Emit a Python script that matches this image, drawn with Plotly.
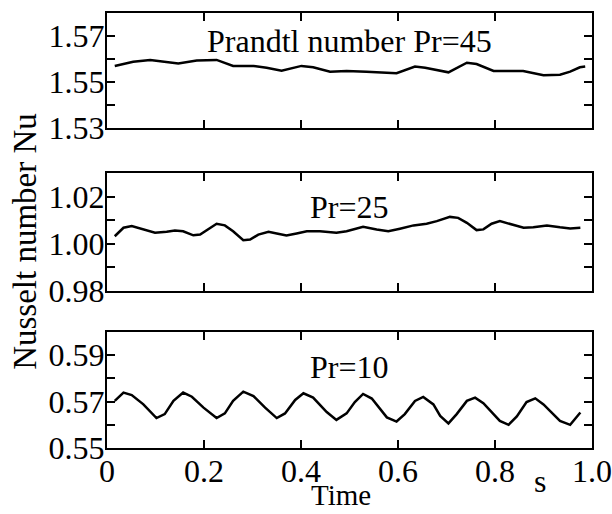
import plotly.graph_objects as go
from plotly.subplots import make_subplots

# Pr=45 series (time in s, Nusselt number)
time_pr45 = [0.016, 0.054, 0.089, 0.113, 0.147, 0.185, 0.226, 0.260, 0.302, 0.329,
             0.360, 0.401, 0.425, 0.460, 0.494, 0.535, 0.566, 0.597, 0.635, 0.656,
             0.704, 0.742, 0.762, 0.797, 0.858, 0.900, 0.934, 0.955, 0.975, 0.986]
nu_pr45 = [1.5570, 1.5588, 1.5596, 1.5591, 1.5581, 1.5593, 1.5596, 1.5570, 1.5570, 1.5562,
           1.5549, 1.5570, 1.5564, 1.5545, 1.5548, 1.5545, 1.5542, 1.5538, 1.5567, 1.5562,
           1.5542, 1.5584, 1.5578, 1.5548, 1.5548, 1.5529, 1.5532, 1.5545, 1.5564, 1.5567]

# Pr=25 series
time_pr25 = [0.016, 0.034, 0.051, 0.075, 0.099, 0.123, 0.140, 0.157, 0.178, 0.192,
             0.212, 0.226, 0.243, 0.260, 0.281, 0.295, 0.312, 0.333, 0.350, 0.370,
             0.391, 0.412, 0.439, 0.473, 0.494, 0.528, 0.556, 0.580, 0.604, 0.632,
             0.659, 0.680, 0.707, 0.724, 0.742, 0.762, 0.776, 0.793, 0.810, 0.831,
             0.859, 0.879, 0.907, 0.934, 0.955, 0.976]
nu_pr25 = [1.0032, 1.0068, 1.0075, 1.0061, 1.0047, 1.0051, 1.0056, 1.0053, 1.0036, 1.0039,
           1.0068, 1.0085, 1.0078, 1.0053, 1.0015, 1.0018, 1.0039, 1.0051, 1.0044, 1.0035,
           1.0044, 1.0053, 1.0053, 1.0047, 1.0053, 1.0072, 1.0061, 1.0053, 1.0064, 1.0078,
           1.0085, 1.0096, 1.0114, 1.0110, 1.0089, 1.0058, 1.0061, 1.0085, 1.0096, 1.0085,
           1.0068, 1.0070, 1.0078, 1.0070, 1.0065, 1.0068]

# Pr=10 series
time_pr10 = [0.016, 0.034, 0.051, 0.075, 0.102, 0.119, 0.137, 0.157, 0.175, 0.199,
             0.226, 0.243, 0.260, 0.281, 0.302, 0.326, 0.350, 0.367, 0.388, 0.405,
             0.425, 0.453, 0.473, 0.494, 0.511, 0.528, 0.546, 0.577, 0.597, 0.614,
             0.635, 0.652, 0.673, 0.687, 0.704, 0.721, 0.742, 0.759, 0.776, 0.810,
             0.828, 0.845, 0.865, 0.883, 0.900, 0.934, 0.955, 0.976]
nu_pr10 = [0.5703, 0.5739, 0.5728, 0.5688, 0.5629, 0.5646, 0.5703, 0.5739, 0.5721, 0.5674,
           0.5629, 0.5649, 0.5703, 0.5743, 0.5724, 0.5674, 0.5629, 0.5649, 0.5707, 0.5736,
           0.5717, 0.5655, 0.5621, 0.5649, 0.5698, 0.5733, 0.5713, 0.5632, 0.5614, 0.5646,
           0.5703, 0.5720, 0.5688, 0.5638, 0.5606, 0.5646, 0.5703, 0.5717, 0.5693, 0.5617,
           0.5600, 0.5636, 0.5698, 0.5714, 0.5688, 0.5617, 0.5600, 0.5653]

x_tick_vals = [0, 0.2, 0.4, 0.6, 0.8, 1.0]
x_tick_labels = ["0", "0.2", "0.4", "0.6", "0.8", "1.0"]
y_ranges = [(1.53, 1.58), (0.98, 1.03), (0.55, 0.60)]
panel_labels = ["Prandtl number Pr=45", "Pr=25", "Pr=10"]

FONT = "Liberation Serif, Times New Roman, serif"

fig = make_subplots(rows=3, cols=1, shared_xaxes=False, vertical_spacing=0.0)

series = [(time_pr45, nu_pr45), (time_pr25, nu_pr25), (time_pr10, nu_pr10)]
for i, (t, nu) in enumerate(series, start=1):
    fig.add_trace(
        go.Scatter(x=t, y=nu, mode="lines", line=dict(color="black", width=2.5),
                   showlegend=False),
        row=i, col=1,
    )

# panel placement (paper fractions)
domains = [(0.7356, 1.0), (0.3609, 0.6322), (0.0, 0.2667)]
label_y = [0.757, 0.715, 0.695]

axis_common = dict(
    showline=True, linecolor="black", linewidth=2, mirror="ticks",
    ticks="inside", ticklen=8, tickwidth=2, tickcolor="black",
    showgrid=False, zeroline=False, automargin=False,
    tickfont=dict(family=FONT, size=32, color="black"),
)

for i in range(3):
    fig.update_xaxes(
        range=[0, 1.0], tickvals=x_tick_vals, ticktext=x_tick_labels,
        showticklabels=(i == 2), ticklabelstandoff=-6,
        row=i + 1, col=1, **axis_common,
    )
    lo, hi = y_ranges[i]
    fig.update_yaxes(
        range=[lo, hi], domain=list(domains[i]), tick0=lo, dtick=0.02,
        tickformat=".2f", ticklabelstandoff=-6,
        minor=dict(dtick=0.01, tick0=lo, ticks="inside", ticklen=8, tickwidth=2,
                   tickcolor="black", showgrid=False),
        row=i + 1, col=1, **axis_common,
    )
    xref = "x domain" if i == 0 else f"x{i + 1} domain"
    yref = "y domain" if i == 0 else f"y{i + 1} domain"
    fig.add_annotation(
        text=panel_labels[i], x=0.5, y=label_y[i], xref=xref, yref=yref,
        xanchor="center", yanchor="middle",
        showarrow=False, font=dict(family=FONT, size=32, color="black"),
    )

fig.add_annotation(text="Nusselt number Nu", textangle=-90, x=-0.169, y=0.474,
                   xref="paper", yref="paper", xanchor="center", yanchor="middle",
                   showarrow=False, font=dict(family=FONT, size=33, color="black"))
fig.add_annotation(text="Time", x=0.4825, y=-0.108, xref="paper", yref="paper",
                   xanchor="center", yanchor="middle",
                   showarrow=False, font=dict(family=FONT, size=29, color="black"))
fig.add_annotation(text="s", x=0.893, y=-0.075, xref="paper", yref="paper",
                   xanchor="center", yanchor="middle",
                   showarrow=False, font=dict(family=FONT, size=32, color="black"))

fig.update_layout(
    width=612, height=514,
    margin=dict(l=107, r=20, t=13, b=66),
    plot_bgcolor="white", paper_bgcolor="white",
    font=dict(family=FONT, color="black"),
)

# drop the default page margin so the figure sits at the window's top-left
fig.write_html("out.html", config={"displayModeBar": False},
               post_script="document.body.style.margin = '0';")
